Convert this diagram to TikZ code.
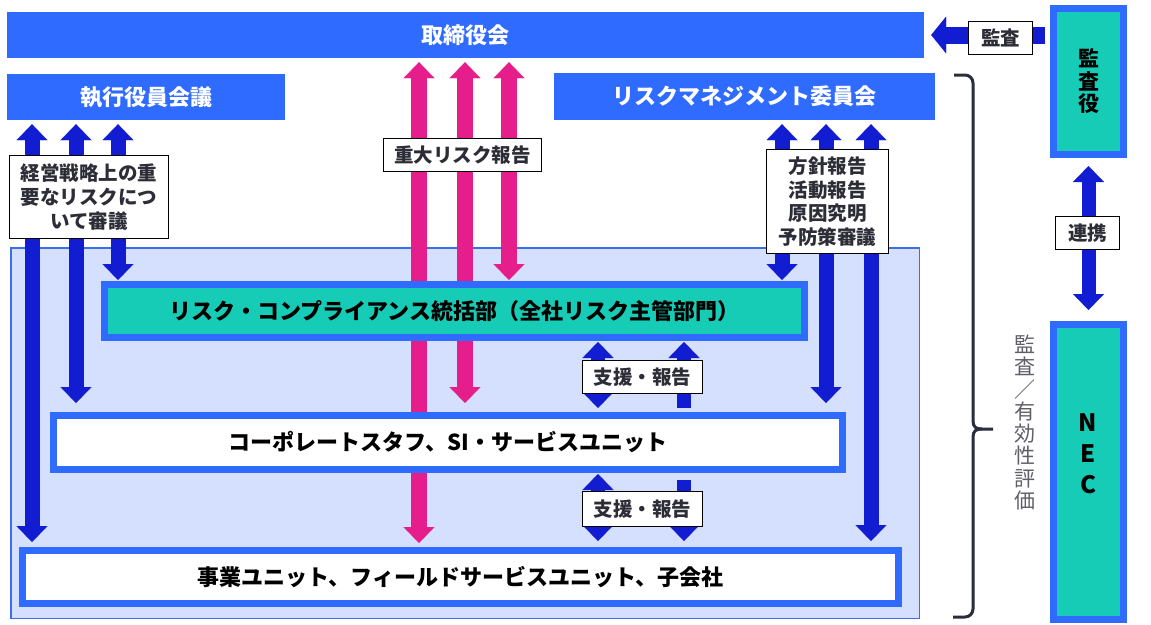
\documentclass[tikz,border=0pt]{standalone}
\usepackage{fontspec}
\setmainfont{Noto Sans CJK JP}
\usetikzlibrary{arrows.meta}
\definecolor{barblue}{RGB}{47,107,255}
\definecolor{arblue}{RGB}{18,28,208}
\definecolor{arpink}{RGB}{230,30,140}
\definecolor{tealc}{RGB}{23,204,182}
\definecolor{bgblue}{RGB}{212,224,253}
\definecolor{bgline}{RGB}{60,110,230}
\definecolor{lbltext}{RGB}{45,45,55}
\definecolor{bracec}{RGB}{42,45,62}
\definecolor{sidegray}{RGB}{95,95,105}
\begin{document}
\begin{tikzpicture}[x=1pt,y=-1pt,
  bar/.style={fill=barblue, text=white, inner sep=0pt, font=\fontsize{22}{26}\selectfont\bfseries},
  thickbox/.style={draw=barblue, line width=7pt, inner sep=0pt, text=black, font=\fontsize{22}{26}\selectfont\bfseries},
  bgbox/.style={draw=bgline, fill=bgblue, line width=1.5pt, inner sep=0pt},
  lbl/.style={draw=black, line width=1pt, fill=white, inner sep=0pt, text=lbltext, align=center, font=\fontsize{19.5}{24}\selectfont\bfseries},
  blu/.style={draw=arblue, line width=15pt},
  pnk/.style={draw=arpink, line width=16pt},
  sup/.style={draw=arblue, line width=14pt},
  dbl/.style={arrows={Triangle[width=31pt,length=16pt,line width=0.1pt]-Triangle[width=31pt,length=16pt,line width=0.1pt]}},
  one/.style={arrows={-Triangle[width=31pt,length=16pt,line width=0.1pt]}},
  brace/.style={draw=bracec, line width=3pt, line join=round}
]
\useasboundingbox (0,0) rectangle (1151,624);
\fill[white] (0,0) rectangle (1151,624);

% background region
\node[bgbox, minimum width=908.5pt, minimum height=370.5pt] (bg) at (465,433) {};

% top bars
\node[bar, minimum width=917pt, minimum height=46pt] (board) at (465.5,35) {取締役会};
\node[bar, minimum width=278pt, minimum height=46pt] (exec) at (146,97) {執行役員会議};
\node[bar, minimum width=381pt, minimum height=47pt] (rmc) at (744.5,96.5) {リスクマネジメント委員会};

% column coordinates
\coordinate (ca) at (32,0);
\coordinate (cb) at (76,0);
\coordinate (cc) at (118,0);
\coordinate (pa) at (419,0);
\coordinate (pb) at (465,0);
\coordinate (pc) at (509,0);
\coordinate (ra) at (782,0);
\coordinate (rb) at (826,0);
\coordinate (rc) at (871,0);
\coordinate (sa) at (598,0);
\coordinate (sb) at (684,0);
\coordinate (ny) at (0,35);

% box outlines (outer extents) for connector anchors
\path (454.5,311) node[minimum width=707pt, minimum height=60pt, inner sep=0pt, outer sep=0pt] (riskA) {};
\path (448,442.5) node[minimum width=796pt, minimum height=61pt, inner sep=0pt, outer sep=0pt] (corpA) {};
\path (460.5,577) node[minimum width=883pt, minimum height=60pt, inner sep=0pt, outer sep=0pt] (bizA) {};
\path (1088.5,81.5) node[minimum width=77pt, minimum height=153pt, inner sep=0pt, outer sep=0pt] (audA) {};
\path (1088.5,472) node[minimum width=77pt, minimum height=302pt, inner sep=0pt, outer sep=0pt] (necA) {};

% arrows from exec
\draw[blu, dbl, shorten <=4pt, shorten >=5pt] (exec.south -| ca) -- (bizA.north -| ca);
\draw[blu, dbl, shorten <=4pt, shorten >=9pt] (exec.south -| cb) -- (corpA.north -| cb);
\draw[blu, dbl, shorten <=4pt, shorten >=1pt] (exec.south -| cc) -- (riskA.north -| cc);
% pink arrows from board
\draw[pnk, dbl, shorten <=4pt, shorten >=4pt] (board.south -| pa) -- (bizA.north -| pa);
\draw[pnk, dbl, shorten <=4pt, shorten >=9pt] (board.south -| pb) -- (corpA.north -| pb);
\draw[pnk, dbl, shorten <=4pt, shorten >=1pt] (board.south -| pc) -- (riskA.north -| pc);
% arrows from rmc
\draw[blu, dbl, shorten <=4pt, shorten >=1pt] (rmc.south -| ra) -- (riskA.north -| ra);
\draw[blu, dbl, shorten <=4pt, shorten >=9pt] (rmc.south -| rb) -- (corpA.north -| rb);
\draw[blu, dbl, shorten <=4pt, shorten >=6pt] (rmc.south -| rc) -- (bizA.north -| rc);
% support arrows
\draw[sup, dbl, shorten <=1pt, shorten >=4pt] (riskA.south -| sa) -- (corpA.north -| sa);
\draw[sup, one, shorten <=4pt, shorten >=1pt] (corpA.north -| sb) -- (riskA.south -| sb);
\draw[sup, dbl, shorten <=1pt, shorten >=6pt] (corpA.south -| sa) -- (bizA.north -| sa);
\draw[sup, one, shorten <=7pt, shorten >=6pt] (corpA.south -| sb) -- (bizA.north -| sb);
% audit and renkei
\draw[draw=arblue, line width=17pt, arrows={-Triangle[width=37pt,length=15pt,line width=0.1pt]}, shorten <=5pt, shorten >=7pt] (audA.west |- ny) -- (board.east |- ny);
\draw[sup, dbl, shorten <=8pt, shorten >=11pt] (audA.south) -- (necA.north);

% main boxes
\node[thickbox, fill=tealc, minimum width=700pt, minimum height=53pt] (risk) at (454.5,311) {リスク・コンプライアンス統括部（全社リスク主管部門）};
\node[thickbox, fill=white, minimum width=789pt, minimum height=54pt] (corp) at (448,442.5) {コーポレートスタフ、SI・サービスユニット};
\node[thickbox, fill=white, minimum width=876pt, minimum height=53pt] (biz) at (460.5,577) {事業ユニット、フィールドサービスユニット、子会社};
\node[thickbox, fill=tealc, minimum width=70pt, minimum height=146pt, align=center, font=\fontsize{21}{22.5}\selectfont\bfseries] (aud) at (1088.5,81.5) {監\\査\\役};
\node[thickbox, fill=tealc, minimum width=70pt, minimum height=295pt] (nec) at (1088.5,472) {};
\node[inner sep=0pt, align=center, text=black, font=\fontsize{24}{31}\selectfont\bfseries] (nectext) at (1088,454) {N\\E\\C};

% labels
\node[lbl, minimum width=159pt, minimum height=83pt] (l1) at (89,197) {経営戦略上の重\\要なリスクにつ\\いて審議};
\node[lbl, minimum width=158pt, minimum height=33pt] (l2) at (462.5,155) {重大リスク報告};
\node[lbl, minimum width=122pt, minimum height=104pt, font=\fontsize{19.5}{23.5}\selectfont\bfseries] (l3) at (827.5,201.5) {方針報告\\活動報告\\原因究明\\予防策審議};
\node[lbl, minimum width=64pt, minimum height=33pt] (l4) at (1000.5,38) {監査};
\node[lbl, minimum width=64pt, minimum height=33pt] (l5) at (1087.5,233) {連携};
\node[lbl, minimum width=120pt, minimum height=33pt] (l6) at (642.5,377) {支援・報告};
\node[lbl, minimum width=120pt, minimum height=35pt] (l7) at (642.5,509) {支援・報告};

% brace
\draw[brace] (954,75) -- (965,75) to[out=0,in=90] (973,83) -- (973,421)
  .. controls (973,427) and (976,429) .. (982,429) -- (993,429);
\draw[brace] (982,429) .. controls (976,429) and (973,431) .. (973,437) -- (973,609)
  to[out=-90,in=0] (965,617) -- (953,617);

% side label
\node[text=sidegray, align=center, inner sep=0pt, font=\fontsize{21}{22.3}\selectfont] (side) at (1025,422.5) {監\\査\\／\\有\\効\\性\\評\\価};
\end{tikzpicture}
\end{document}
